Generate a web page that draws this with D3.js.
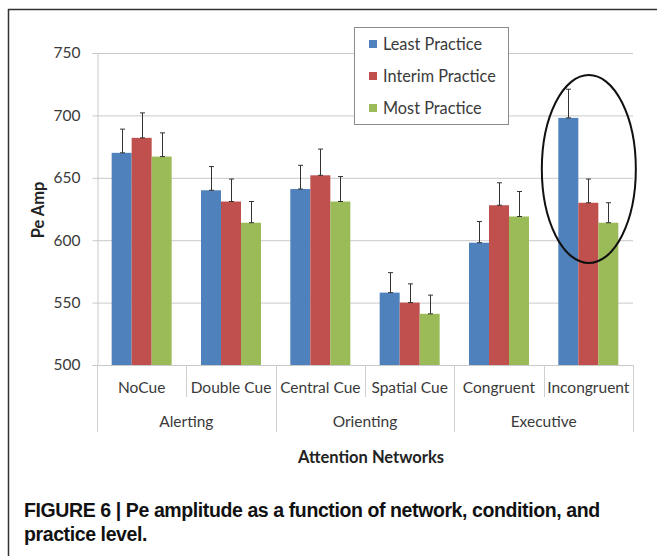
<!DOCTYPE html>
<html>
<head>
<meta charset="utf-8">
<script src="https://cdn.jsdelivr.net/npm/d3@7"></script>
<style>
  html, body { margin: 0; padding: 0; background: #fff; }
  svg { display: block; }
  .lbl { font-family: Lato, "Open Sans", sans-serif; fill: #3a3a3a; }
</style>
</head>
<body>
<svg id="chart" width="657" height="556"></svg>
<script>
// Conditions and their parent networks
const categories = ["NoCue", "Double Cue", "Central Cue", "Spatial Cue", "Congruent", "Incongruent"];
const groups = [
  { name: "Alerting", from: 0, to: 1 },
  { name: "Orienting", from: 2, to: 3 },
  { name: "Executive", from: 4, to: 5 }
];
const seriesNames = ["Least Practice", "Interim Practice", "Most Practice"];
const seriesColors = ["#4F81BD", "#C0504D", "#9BBB59"];

// Pe amplitude means per condition
const leastPractice   = [670, 640, 641, 558, 598, 698];
const interimPractice = [682, 631, 652, 550, 628, 630];
const mostPractice    = [667, 614, 631, 541, 619, 614];
// Upper error (SE) per condition
const leastErr   = [19, 19, 19, 16, 17, 23];
const interimErr = [20, 18, 21, 15, 18, 19];
const mostErr    = [19, 17, 20, 15, 20, 16];

const yTicks = [500, 550, 600, 650, 700, 750];

const values = [leastPractice, interimPractice, mostPractice];
const errs = [leastErr, interimErr, mostErr];

const svg = d3.select("#chart");

// Figure frame (top and left edges)
svg.append("line").attr("x1", 8).attr("x2", 657).attr("y1", 9.5).attr("y2", 9.5)
  .attr("stroke", "#333").attr("stroke-width", 1.5);
svg.append("line").attr("x1", 8.5).attr("x2", 8.5).attr("y1", 9).attr("y2", 556)
  .attr("stroke", "#333").attr("stroke-width", 1.5);

const plotLeft = 97, plotRight = 633, plotTop = 53, plotBottom = 365;

const y = d3.scaleLinear().domain([500, 750]).range([plotBottom, plotTop]);
const x0 = d3.scaleBand().domain(categories).range([plotLeft, plotRight]).padding(0);
const x1 = d3.scaleBand().domain(seriesNames).range([0, x0.bandwidth()])
  .paddingInner(0).paddingOuter(0.733);

// Gridlines
svg.append("g").selectAll("line").data(yTicks.filter(t => t > 500)).join("line")
  .attr("x1", plotLeft).attr("x2", plotRight)
  .attr("y1", d => y(d) + 0.5).attr("y2", d => y(d) + 0.5)
  .attr("stroke", "#c9c9c9").attr("stroke-width", 1);

// Y axis
const yAxis = svg.append("g").attr("transform", `translate(${plotLeft + 0.5},0)`)
  .call(d3.axisLeft(y).tickValues(yTicks).tickSize(5).tickPadding(12));
yAxis.select(".domain").attr("stroke", "#c9c9c9");
yAxis.selectAll(".tick line").attr("stroke", "#c9c9c9");
yAxis.selectAll(".tick text").attr("class", "lbl").style("font-size", "15.5px")
  .attr("fill", "#3a3a3a").attr("font-family", "Lato, sans-serif");

// Y axis title
svg.append("text").attr("class", "lbl")
  .attr("transform", `translate(44,210) rotate(-90)`)
  .attr("text-anchor", "middle")
  .style("font-size", "16.5px").style("font-weight", "bold").style("fill", "#222")
  .text("Pe Amp");

// Bars
const barG = svg.append("g");
seriesNames.forEach((s, si) => {
  barG.append("g").selectAll("rect").data(categories).join("rect")
    .attr("x", (c) => x0(c) + x1(s))
    .attr("width", x1.bandwidth())
    .attr("y", (c, i) => y(values[si][i]))
    .attr("height", (c, i) => y(500) - y(values[si][i]))
    .attr("fill", seriesColors[si]);
});

// Error bars (upper)
const errG = svg.append("g").attr("stroke", "#333").attr("stroke-width", 1);
seriesNames.forEach((s, si) => {
  categories.forEach((c, i) => {
    const cx = Math.round(x0(c) + x1(s) + x1.bandwidth() / 2) + 0.5;
    const y0v = y(values[si][i]);
    const y1v = y(values[si][i] + errs[si][i]);
    errG.append("line").attr("x1", cx).attr("x2", cx).attr("y1", y0v).attr("y2", y1v);
    errG.append("line").attr("x1", cx - 2.5).attr("x2", cx + 2.5).attr("y1", y1v).attr("y2", y1v);
    errG.append("line").attr("x1", cx - 2.5).attr("x2", cx + 2.5).attr("y1", y0v).attr("y2", y0v);
  });
});

// Category axis
svg.append("line").attr("x1", plotLeft).attr("x2", plotRight)
  .attr("y1", plotBottom + 0.5).attr("y2", plotBottom + 0.5).attr("stroke", "#c9c9c9");

const bounds = d3.range(categories.length + 1);
const groupEdges = new Set([0, 2, 4, 6]);
svg.append("g").selectAll("line").data(bounds).join("line")
  .attr("x1", i => Math.round(plotLeft + i * x0.step()) + 0.5)
  .attr("x2", i => Math.round(plotLeft + i * x0.step()) + 0.5)
  .attr("y1", plotBottom)
  .attr("y2", i => groupEdges.has(i) ? 432 : 397)
  .attr("stroke", "#d0d0d0");

svg.append("g").selectAll("text").data(categories).join("text")
  .attr("class", "lbl")
  .attr("x", c => x0(c) + x0.bandwidth() / 2)
  .attr("y", 393)
  .attr("text-anchor", "middle")
  .style("font-size", "15.5px")
  .text(c => c);

svg.append("g").selectAll("text").data(groups).join("text")
  .attr("class", "lbl")
  .attr("x", g => (x0(categories[g.from]) + x0(categories[g.to]) + x0.bandwidth()) / 2)
  .attr("y", 427)
  .attr("text-anchor", "middle")
  .style("font-size", "15.5px")
  .text(g => g.name);

// X axis title
svg.append("text").attr("class", "lbl")
  .attr("x", 371).attr("y", 463)
  .attr("text-anchor", "middle")
  .style("font-size", "16.5px").style("font-weight", "bold").style("fill", "#222")
  .text("Attention Networks");

// Legend
const legend = svg.append("g");
legend.append("rect").attr("x", 354.5).attr("y", 27.5).attr("width", 154).attr("height", 97)
  .attr("fill", "#fff").attr("stroke", "#8a8a8a");
seriesNames.forEach((s, si) => {
  const ly = 44 + si * 32;
  legend.append("rect").attr("x", 369).attr("y", ly - 4).attr("width", 8).attr("height", 8)
    .attr("fill", seriesColors[si]);
  legend.append("text").attr("class", "lbl").attr("x", 383).attr("y", ly + 5.5)
    .style("font-size", "16.3px").text(s);
});

// Highlight around the Incongruent condition
const inc = categories[5];
svg.append("ellipse")
  .attr("cx", x0(inc) + x0.bandwidth() / 2 + 0.5)
  .attr("cy", 169)
  .attr("rx", 47)
  .attr("ry", 94)
  .attr("fill", "none").attr("stroke", "#111").attr("stroke-width", 2);

// Caption
const cap = svg.append("text")
  .attr("font-family", "'Liberation Sans', Arial, sans-serif")
  .attr("font-weight", "bold").attr("font-size", "19.5px").attr("fill", "#111")
  .attr("letter-spacing", "-0.4px");
cap.append("tspan").attr("x", 24).attr("y", 517)
  .text("FIGURE 6 | Pe amplitude as a function of network, condition, and");
cap.append("tspan").attr("x", 24).attr("y", 541).text("practice level.");
</script>
</body>
</html>
